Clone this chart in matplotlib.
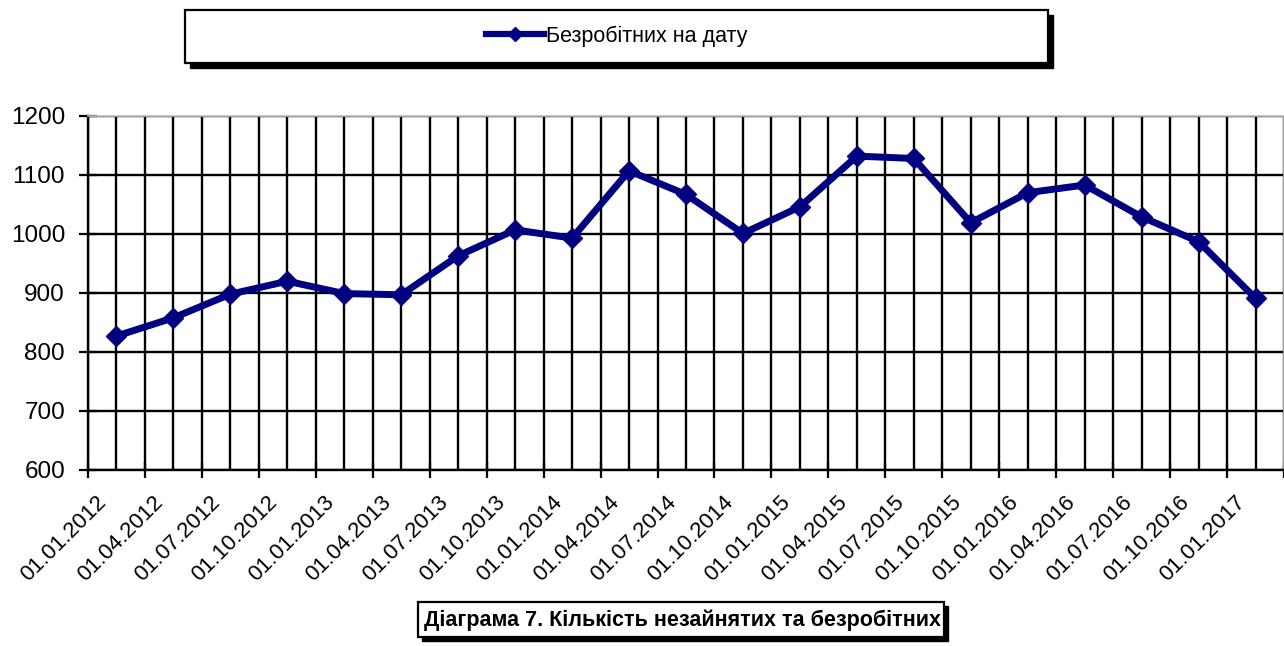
"""Line chart: unemployed persons on date, quarterly 2012-2017 (Excel-style recreation)."""

import matplotlib

matplotlib.use("Agg")

import matplotlib.pyplot as plt  # noqa: E402
import matplotlib.transforms as mtransforms  # noqa: E402
import numpy as np  # noqa: E402
from matplotlib.lines import Line2D  # noqa: E402
from matplotlib.patches import Rectangle  # noqa: E402

plt.rcParams["font.family"] = ["Liberation Sans", "DejaVu Sans"]

dates = [
    "01.01.2012", "01.04.2012", "01.07.2012", "01.10.2012",
    "01.01.2013", "01.04.2013", "01.07.2013", "01.10.2013",
    "01.01.2014", "01.04.2014", "01.07.2014", "01.10.2014",
    "01.01.2015", "01.04.2015", "01.07.2015", "01.10.2015",
    "01.01.2016", "01.04.2016", "01.07.2016", "01.10.2016",
    "01.01.2017",
]
unemployed = [
    827, 858, 898, 920, 899, 897, 963, 1007, 993, 1107, 1067,
    1001, 1046, 1132, 1128, 1019, 1070, 1083, 1029, 987, 891,
]
y_ticks = [600, 700, 800, 900, 1000, 1100, 1200]
series_label = "Безробітних на дату"
caption = "Діаграма 7. Кількість незайнятих та безробітних"

W, H = 1284, 646
NAVY = "#000080"


def fx(px):
    return px / W


def fy(py):
    return 1 - py / H


def framed_box(fig, left, top, right, bottom, shadow=5):
    """Excel-like white box with a black drop shadow, in pixel coords."""
    fig.patches.append(Rectangle(
        (fx(left + shadow), fy(bottom + shadow)), fx(right - left), (bottom - top) / H,
        transform=fig.transFigure, facecolor="black", edgecolor="black", zorder=1))
    fig.patches.append(Rectangle(
        (fx(left), fy(bottom)), fx(right - left), (bottom - top) / H,
        transform=fig.transFigure, facecolor="white", edgecolor="black", linewidth=1.6, zorder=2))


fig = plt.figure(figsize=(W / 100, H / 100), dpi=100)
ax = fig.add_axes([fx(88), fy(470), fx(W - 88), (470 - 116) / H])

n = len(dates)
x = np.arange(n) + 0.5
ax.plot(x, unemployed, color=NAVY, linewidth=5, marker="D", markersize=10,
        solid_joinstyle="miter", zorder=4, clip_on=False)

ax.set_xlim(0, n)
ax.set_ylim(y_ticks[0], y_ticks[-1])
ax.set_yticks(y_ticks)
ax.set_xticks(np.arange(n + 1))
ax.set_xticklabels([])
ax.set_xticks(x, minor=True)
ax.set_xticklabels(dates, minor=True, rotation=45, ha="right", va="baseline",
                   rotation_mode="anchor", fontsize=16)

ax.tick_params(axis="y", which="major", direction="inout", length=13, width=1.6,
               pad=10, labelsize=17.5)
ax.tick_params(axis="x", which="major", direction="inout", length=12, width=1.6)
ax.tick_params(axis="x", which="minor", length=0, pad=24)

shift = mtransforms.ScaledTranslation(-9 / 100, 0, fig.dpi_scale_trans)
for lab in ax.get_xticklabels(minor=True):
    lab.set_transform(lab.get_transform() + shift)

ax.grid(True, which="both", axis="x", color="black", linewidth=1.7)
ax.grid(True, which="major", axis="y", color="black", linewidth=1.7)
ax.set_axisbelow(True)

for side in ("left", "bottom"):
    ax.spines[side].set_linewidth(1.7)
    ax.spines[side].set_color("black")
for side in ("top", "right"):
    ax.spines[side].set_linewidth(1.2)
    ax.spines[side].set_color("#c0c0c0")

# legend box
framed_box(fig, 185, 10, 1048, 63, shadow=5)
handle = Line2D([], [], color=NAVY, linewidth=4.5, marker="D", markersize=7)
leg = fig.legend([handle], [series_label], loc="center", frameon=False,
                 bbox_to_anchor=(fx(617), fy(36)), fontsize=15.5,
                 handlelength=2.7, handletextpad=0.1)
leg.set_zorder(5)

# caption box
framed_box(fig, 418, 602, 944, 637, shadow=4)
fig.text(fx(682), fy(620), caption, ha="center", va="center",
         fontsize=15.5, fontweight="bold", zorder=5)

fig.savefig("out.png", dpi=100)
